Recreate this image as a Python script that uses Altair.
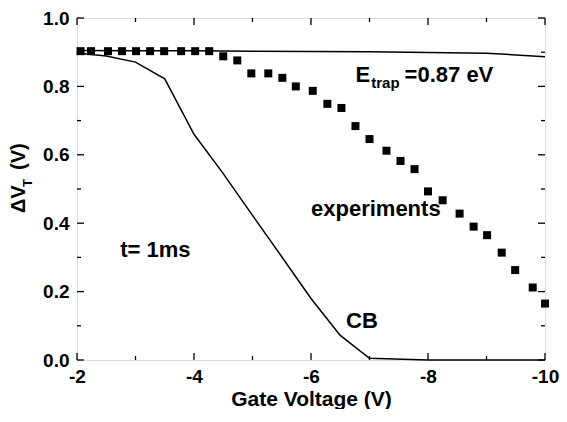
import altair as alt
import pandas as pd

# ---- data ----
exp_v = [-2.06, -2.24, -2.53, -2.77, -3.01, -3.25, -3.49, -3.78, -4.02, -4.26,
         -4.50, -4.74, -4.98, -5.27, -5.51, -5.74, -6.03, -6.28, -6.52, -6.76,
         -7.00, -7.29, -7.53, -7.77, -8.00, -8.25, -8.54, -8.78, -9.01, -9.26,
         -9.49, -9.79, -10.0]
exp_dvt = [0.903, 0.903, 0.903, 0.903, 0.903, 0.903, 0.903, 0.903, 0.903, 0.903,
           0.888, 0.876, 0.838, 0.838, 0.825, 0.800, 0.787, 0.749, 0.737, 0.684,
           0.646, 0.612, 0.582, 0.558, 0.493, 0.467, 0.428, 0.390, 0.365, 0.314,
           0.263, 0.212, 0.165]

etrap_v = [-2, -3, -4, -5, -6, -7, -8, -9, -10]
etrap_dvt = [0.905, 0.904, 0.904, 0.903, 0.902, 0.901, 0.899, 0.897, 0.887]

cb_v = [-2, -2.5, -3, -3.5, -4, -4.5, -5, -5.5, -6, -6.5, -7, -8, -9, -10]
cb_dvt = [0.898, 0.889, 0.871, 0.822, 0.660, 0.545, 0.423, 0.302, 0.180, 0.072,
          0.005, 0.0, 0.0, 0.0]

x_major = [-2, -4, -6, -8, -10]
x_minor = [-3, -5, -7, -9]
y_major = [0.0, 0.2, 0.4, 0.6, 0.8, 1.0]
y_minor = [0.1, 0.3, 0.5, 0.7, 0.9]

ann_text = ["E", "trap", "=0.87 eV", "experiments", "t= 1ms", "CB"]
ann_x = [-6.76, -7.03, -7.60, -6.00, -2.74, -6.60]
ann_y = [0.813, 0.796, 0.813, 0.421, 0.301, 0.093]
ann_size = [22, 15, 22, 22, 22, 22]

# ---- layout ----
W, H = 468, 342
FONT = "Liberation Sans"

xscale = alt.Scale(domain=[-10, -2], reverse=True, nice=False, zero=False)
yscale = alt.Scale(domain=[0, 1], nice=False, zero=False)

x_axis = alt.Axis(values=x_major, labelExpr="toString(datum.value)",
                  title="Gate Voltage (V)", ticks=False, tickSize=0, labelFlush=False,
                  domain=False, grid=False, labelFont=FONT, labelFontSize=19,
                  labelFontWeight="bold", labelColor="black",
                  labelBaseline="alphabetic", labelPadding=22,
                  titleFont=FONT, titleFontSize=21, titleFontWeight="bold",
                  titleColor="black", titleBaseline="alphabetic", titleY=45)
y_axis = alt.Axis(values=y_major, format=".1f", title=None, ticks=False, tickSize=0,
                  labelFlush=False, domain=False, grid=False, labelFont=FONT,
                  labelFontSize=19, labelFontWeight="bold", labelColor="black",
                  labelPadding=8)


def X(field):
    return alt.X(field, scale=xscale, axis=x_axis)


def Y(field):
    return alt.Y(field, scale=yscale, axis=y_axis)


exp_df = pd.DataFrame({"v": exp_v, "d": exp_dvt})
etrap_df = pd.DataFrame({"v": etrap_v, "d": etrap_dvt})
cb_df = pd.DataFrame({"v": cb_v, "d": cb_dvt})
ann_df = pd.DataFrame({"v": ann_x, "d": ann_y, "t": ann_text, "s": ann_size})

points = alt.Chart(exp_df).mark_square(size=64, color="black", opacity=1, clip=False).encode(
    x=X("v:Q"), y=Y("d:Q"),
)
etrap_line = alt.Chart(etrap_df).mark_line(color="black", strokeWidth=1.5).encode(
    x=X("v:Q"), y=Y("d:Q"),
)
cb_line = alt.Chart(cb_df).mark_line(color="black", strokeWidth=1.5).encode(
    x=X("v:Q"), y=Y("d:Q"),
)
annotations = alt.Chart(ann_df).mark_text(
    font=FONT, fontWeight="bold", color="black", align="left", baseline="alphabetic"
).encode(
    x=X("v:Q"), y=Y("d:Q"),
    text="t:N",
    size=alt.Size("s:Q", scale=None, legend=None),
)


def xticks(vals, length, top):
    df = pd.DataFrame({"v": vals})
    y0, y1 = (0, length) if top else (H, H - length)
    return alt.Chart(df).mark_rule(color="black", strokeWidth=1.3).encode(
        x=X("v:Q"), y=alt.value(y0), y2=alt.value(y1))


def yticks(vals, length, right):
    df = pd.DataFrame({"d": vals})
    x0, x1 = (W, W - length) if right else (0, length)
    return alt.Chart(df).mark_rule(color="black", strokeWidth=1.3).encode(
        y=Y("d:Q"), x=alt.value(x0), x2=alt.value(x1))


ticks = [
    xticks(x_major, 7, False), xticks(x_minor, 4, False),
    xticks(x_major, 7, True), xticks(x_minor, 4, True),
    yticks(y_major, 7, False), yticks(y_minor, 4, False),
    yticks(y_major, 7, True), yticks(y_minor, 4, True),
]


# y title with subscript T (rotated text pieces)
def ytext(txt, px, py, size):
    return alt.Chart(pd.DataFrame({"t": [txt]})).mark_text(
        font=FONT, fontWeight="bold", color="black", align="left",
        baseline="alphabetic", angle=270, fontSize=size
    ).encode(x=alt.value(px), y=alt.value(py), text="t:N")


ytitle = [
    ytext("\u0394V", -52, 195, 20),
    ytext("T", -45, 169, 13),
    ytext("(V)", -52, 152, 20),
]

chart = alt.layer(
    cb_line, etrap_line, points, annotations, *ytitle, *ticks
).properties(
    width=W, height=H,
    autosize=alt.AutoSizeParams(type="none"),
    padding={"left": 69, "top": 10, "right": 14, "bottom": 49},
).configure_view(
    stroke="black", strokeWidth=1.5
).configure(background="white")

chart.save("out.html", embed_options={"renderer": "svg", "actions": False})
